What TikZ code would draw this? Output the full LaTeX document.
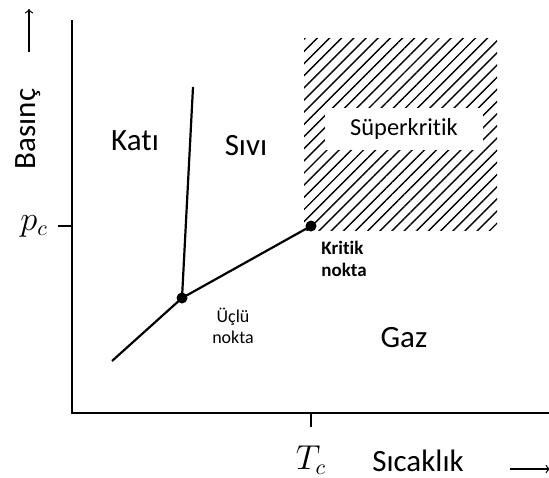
\documentclass[tikz,border=0pt]{standalone}
\usepackage{fontspec}
\setmainfont{Carlito}[Ligatures={NoCommon}]
\usetikzlibrary{patterns.meta}
\begin{document}
\begin{tikzpicture}[x=0.5pt, y=-0.5pt,
        eksen/.style={line width=0.6pt},
        faz/.style={line width=1.1pt},
        nokta/.style={circle, fill=black, inner sep=0pt, minimum size=5.5pt},
        etiket/.style={font=\fontsize{15.5}{18}\selectfont, inner sep=0pt},
        kucuk/.style={font=\fontsize{9}{10.5}\selectfont, align=center, inner sep=0pt},
        taralı/.style={pattern={Lines[angle=45, distance=4.3pt, line width=0.7pt]}},
    ]
        \useasboundingbox (0,0) rectangle (549,477);

        % Eksenler
        \coordinate (o) at (72,413);
        \coordinate (ust) at (72,20);
        \coordinate (sag) at (549,413);
        \draw[eksen] (ust) -- (o) -- (sag);
        \draw[eksen] (58,226) -- (72,226);
        \draw[eksen] (311,413) -- (311,427);
        \node[font=\fontsize{16}{18}\selectfont, inner sep=0pt] (pc) at (34,226) {$p_c$};
        \node[font=\fontsize{16}{18}\selectfont, inner sep=0pt] (tc) at (311,460) {$T_c$};

        % Eksen yazilari
        \node[etiket, rotate=90] (basinc) at (28,129) {Basınç};
        \coordinate (yok1) at (29,52);
        \coordinate (yok2) at (29,9);
        \draw[->, line width=0.6pt] (yok1) -- (yok2);
        \node[etiket] (sicaklik) at (418,461) {Sıcaklık};
        \coordinate (xok1) at (510,469);
        \coordinate (xok2) at (550,469);
        \draw[->, line width=0.6pt] (xok1) -- (xok2);

        % Superkritik bolge
        \fill[taralı] (304,38) rectangle (497,230);
        \node[fill=white, minimum width=79pt, minimum height=21pt, inner sep=0pt,
              font=\fontsize{12.2}{14}\selectfont] (super) at (404,129) {Süperkritik};

        % Faz sinirlari
        \node[nokta] (uclu) at (182,298) {};
        \node[nokta] (kritik) at (311,226) {};
        \coordinate (alt) at (112,361);
        \coordinate (erime) at (193,87);
        \draw[faz] (alt) -- (uclu.center) -- (kritik.center);
        \draw[faz] (uclu.center) -- (erime);

        % Bolgeler
        \node[etiket] (kati) at (135,141) {Katı};
        \node[etiket] (sivi) at (246,146) {Sıvı};
        \node[etiket] (gaz) at (404,338) {Gaz};
        \node[kucuk] (ucluyazi) at (233,326) {Üçlü\\nokta};
        \node[kucuk, font=\fontsize{9.5}{11}\selectfont\bfseries, align=left, anchor=west]
            (kritikyazi) at (321,259) {Kritik\\nokta};
    \end{tikzpicture}
\end{document}
